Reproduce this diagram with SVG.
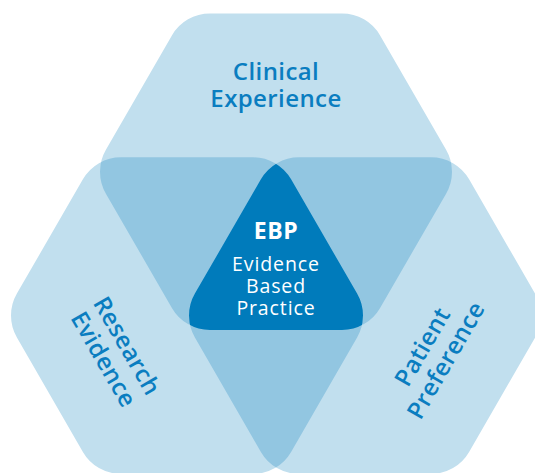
<svg xmlns="http://www.w3.org/2000/svg" xmlns:xlink="http://www.w3.org/1999/xlink" width="535" height="473" viewBox="0 0 535 473">
  <style>
    .single { fill: #c1dfee; }
    .double { fill: #92c6e1; }
    .core { fill: #007bbb; }
    .label { font-family: "Open Sans", "Liberation Sans", sans-serif; font-weight: 600; font-size: 24px; letter-spacing: 0.4px; fill: #0a7dc0; text-anchor: middle; }
    .core-title { font-family: "Open Sans", "Liberation Sans", sans-serif; font-weight: 700; font-size: 23px; letter-spacing: 0.5px; fill: #ffffff; text-anchor: middle; }
    .core-text { font-family: "Open Sans", "Liberation Sans", sans-serif; font-weight: 400; font-size: 19.5px; letter-spacing: 0.9px; fill: #ffffff; text-anchor: middle; }
  </style>
  <defs>
    <!-- rounded hexagon, flat top and bottom, centred on the origin -->
    <path id="hex" d="M-66,-158.3 L66,-158.3 A44,44 0 0 1 104.1,-136.3 L170.1,-22 A44,44 0 0 1 170.1,22 L104.1,136.3 A44,44 0 0 1 66,158.3 L-66,158.3 A44,44 0 0 1 -104.1,136.3 L-170.1,22 A44,44 0 0 1 -170.1,-22 L-104.1,-136.3 A44,44 0 0 1 -66,-158.3 Z"/>
    <clipPath id="clip-top"><use xlink:href="#hex" href="#hex" transform="translate(276,171.7)"/></clipPath>
    <clipPath id="clip-left"><use xlink:href="#hex" href="#hex" transform="translate(187,315.6)"/></clipPath>
    <clipPath id="clip-right"><use xlink:href="#hex" href="#hex" transform="translate(365,315.6)"/></clipPath>
  </defs>

  <!-- three circles of evidence -->
  <g id="clinical-experience">
    <use xlink:href="#hex" href="#hex" class="single" transform="translate(276,171.7)"/>
  </g>
  <g id="research-evidence">
    <use xlink:href="#hex" href="#hex" class="single" transform="translate(187,315.6)"/>
  </g>
  <g id="patient-preference">
    <use xlink:href="#hex" href="#hex" class="single" transform="translate(365,315.6)"/>
  </g>

  <!-- pairwise overlaps -->
  <g id="overlaps">
    <g clip-path="url(#clip-left)"><use xlink:href="#hex" href="#hex" class="double" transform="translate(276,171.7)"/></g>
    <g clip-path="url(#clip-right)"><use xlink:href="#hex" href="#hex" class="double" transform="translate(276,171.7)"/></g>
    <g clip-path="url(#clip-right)"><use xlink:href="#hex" href="#hex" class="double" transform="translate(187,315.6)"/></g>
  </g>

  <!-- centre: where all three meet -->
  <g id="ebp">
    <g clip-path="url(#clip-top)">
      <g clip-path="url(#clip-right)"><use xlink:href="#hex" href="#hex" class="core" transform="translate(187,315.6)"/></g>
    </g>
    <text class="core-title" x="276" y="239.3">EBP</text>
    <text class="core-text" x="276" y="270.7">Evidence</text>
    <text class="core-text" x="276" y="292.7">Based</text>
    <text class="core-text" x="276" y="314.7">Practice</text>
  </g>

  <!-- labels -->
  <g id="labels">
    <text class="label" x="276" y="79.5">Clinical</text>
    <text class="label" x="276" y="106.7">Experience</text>
    <g transform="translate(115.5,352.5) rotate(60)">
      <text class="label" x="0" y="-5">Research</text>
      <text class="label" x="0" y="22">Evidence</text>
    </g>
    <g transform="translate(434,353.5) rotate(-60)">
      <text class="label" x="0" y="-5">Patient</text>
      <text class="label" x="0" y="22">Preference</text>
    </g>
  </g>
</svg>
